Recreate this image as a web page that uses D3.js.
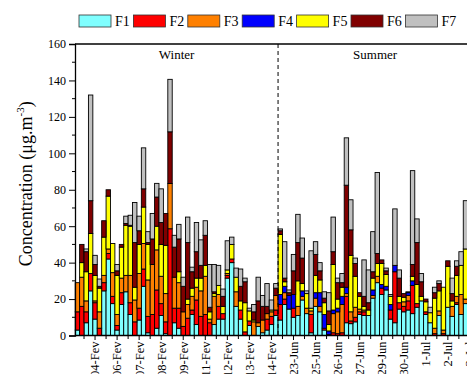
<!DOCTYPE html>
<html>
<head>
<meta charset="utf-8">
<script src="https://cdn.jsdelivr.net/npm/d3@7"></script>
<style>
  body { margin: 0; background: #fff; }
  svg { display: block; }
</style>
</head>
<body>
<div id="chart"></div>
<script>
// fractions, bottom to top
const seriesNames = ['F1', 'F2', 'F3', 'F4', 'F5', 'F6', 'F7'];
const seriesColors = ['#80ffff', '#ff0000', '#ff8000', '#0000ff', '#ffff00', '#800000', '#c0c0c0'];

// one value per sample (winter 0-45, summer 46-88)
const F1 = [3, 0, 7, 24.5, 9, 0, 24.5, 42, 17.5, 3, 17, 24, 11.5, 0, 8.5, 27, 1.5, 0, 4, 11, 1, 0,
  7, 4, 0, 0, 11.5, 6, 0, 0, 0, 6, 9, 9, 31.5, 40, 16, 9, 0, 5.5, 0, 5, 1.5, 3, 6, 11,
  8.5, 17, 14.5, 10, 11, 19.5, 12, 1.5, 16, 13, 3, 0.5, 0, 0, 0, 7, 6.5, 7.5, 11.5, 11, 11, 20.5,
  29, 22.5, 25, 9, 7, 14.5, 13, 14, 12, 15.5, 19, 11.5, 7, 0, 11, 0, 15.5, 10.5, 17, 11.5, 17.5];
const F2 = [10, 16, 6, 9.5, 9, 4, 4.5, 3, 4, 2.5, 6.5, 0, 6.5, 7.5, 6.5, 9.5, 9, 11.5, 21, 6.5, 6.5, 58.6,
  8, 11, 5, 9.5, 2.5, 13.5, 10.5, 11.5, 7, 0, 7, 3, 1.5, 2, 0, 5, 2, 2.5, 0, 0, 0, 6, 4.5, 3,
  8.5, 3, 0, 5, 0, 0, 0, 10, 0, 0, 1, 0, 1.5, 1, 1.5, 14.5, 1.5, 2.5, 1.5, 2, 0, 0,
  0, 3.5, 0, 5, 28, 3.5, 3, 5, 15.5, 2, 0, 1.5, 0, 1, 0, 1, 0, 0, 1, 0, 0];
const F3 = [16, 16, 6, 0, 1, 9, 4, 2.5, 13, 6, 8, 9, 15, 12, 19, 14, 20, 27.5, 22, 15, 15.5, 24.8,
  17, 14, 8, 7.5, 7.5, 7, 14, 21, 2, 15.5, 6.5, 0, 1, 0, 8, 0, 0, 0, 7.5, 2, 7, 3, 2.5, 8,
  0, 3.5, 0, 0, 5, 2, 3, 2, 4.5, 3, 0, 0, 10.5, 12, 15.5, 1.5, 5, 5.5, 1.5, 1, 0, 1.5,
  3.5, 0, 0, 0, 0, 0, 2.5, 3, 0, 0, 0, 0, 0, 3, 2.5, 2, 0, 5.5, 3.5, 11, 2.5];
const F4 = [0, 0, 0, 0, 0, 0, 0, 0, 0, 0, 0, 0, 0, 0, 0, 0, 0, 0, 0, 0, 0, 0,
  0, 0, 0, 0, 0, 0, 0, 0, 0, 0, 0, 0, 0, 0, 0, 0, 0, 0, 0, 0, 0, 0, 0, 0,
  5.5, 3.5, 7.5, 7.5, 0, 3, 0, 0, 3, 7.5, 7.5, 2, 2, 2, 4.5, 3.5, 0, 0, 0, 0, 0, 3,
  0, 2, 2, 3, 3.5, 0, 0, 1.5, 2.5, 0, 0, 0, 0, 0, 0, 0, 0, 0, 0, 0, 0];
const F5 = [0, 8, 16, 22, 14, 13, 21, 29, 16, 21.5, 17, 27.5, 27, 7, 16, 20, 19.5, 0, 13, 17.5, 26.5, 0,
  0, 6, 0, 3, 4.5, 5, 7, 6, 4, 1.5, 5, 4, 2, 8, 8, 5, 16, 5.5, 1, 0, 0, 0, 1, 0,
  33, 2.5, 0, 0, 14, 4, 8, 1.5, 9.5, 7, 6.5, 3.5, 25, 5, 5, 0, 31, 17, 7, 2, 3, 6.5,
  7, 11.5, 6.5, 4.5, 0, 3.5, 2.5, 0, 2.5, 10.5, 2.5, 5.5, 5.5, 16.5, 11, 23.5, 22.5, 3, 11.5, 16, 27.5];
const F6 = [0, 10, 11, 18, 6, 1, 9, 3.5, 0, 2.5, 1.5, 1, 0.5, 24.5, 7.5, 10, 1, 14, 16, 12, 17.5, 28.4,
  16.5, 18, 14, 31, 9, 14.5, 7, 16.5, 2.5, 1, 0, 5.5, 0, 0, 0, 8, 11.5, 0, 4.5, 12, 7.5, 4, 0, 4,
  2, 2, 1.5, 13, 21, 14, 0, 0, 11.5, 5, 2.5, 7.5, 7, 9, 2.5, 56, 14, 7, 2, 5.5, 4, 3.5,
  5.5, 2, 2, 0, 0, 10, 2, 0, 6.5, 23, 8, 1.5, 0, 3, 4, 0, 3, 4, 5, 0, 0];
const F7 = [0, 0, 1.5, 58, 5, 4, 0, 0, 0, 3.5, 0, 4, 5.5, 22, 8, 22.5, 6, 14, 7.5, 18.5, 0, 28.8,
  6.5, 8, 5, 14, 2.5, 16, 14, 8, 23.5, 15, 11, 4, 16, 4, 5, 9.5, 2, 1.5, 4, 13, 6, 12.5, 5.5, 2.5,
  1, 20, 1.5, 9, 15.5, 11, 1.5, 31.5, 7, 4.5, 3.5, 10, 19, 2.5, 5, 26, 16.5, 3, 0, 20, 18, 22,
  44.5, 0, 1.5, 1, 31, 4.5, 0, 0.5, 51.5, 13, 4.5, 0, 3, 3, 1.5, 0, 0, 8.5, 3, 7.5, 26.5];
const seriesValues = [F1, F2, F3, F4, F5, F6, F7];

// axis: sample that carries each date label (the last one falls past the frame)
const sampleCount = 90;
const tickSamples = [4, 9, 14, 19, 24, 29, 34, 39, 44, 49, 54, 59, 64, 69, 74, 79, 84, 89];
const tickLabels = ['04-Fev', '06-Fev', '07-Fev', '08-Fev', '09-Fev', '11-Fev', '12-Fev', '13-Fev', '14-Fev',
  '23-Jun', '25-Jun', '26-Jun', '27-Jun', '29-Jun', '30-Jun', '1-Jul', '2-Jul', '3-Jul'];
const yTicks = [0, 20, 40, 60, 80, 100, 120, 140, 160];
const seasons = [
  { name: 'Winter', first: 0, last: 45 },
  { name: 'Summer', first: 46, last: 89 }
];

const width = 467;
const height = 374;
const margin = { top: 44, left: 75, bottom: 38.5 };
const pitch = 4.41;
const serif = '"Liberation Serif", "Times New Roman", serif';

const rows = F1.map((v, i) => {
  const row = { sample: i };
  seriesNames.forEach((name, s) => { row[name] = seriesValues[s][i]; });
  return row;
});

const x = d3.scaleBand()
  .domain(d3.range(sampleCount))
  .range([margin.left + 0.2, margin.left + 0.2 + sampleCount * pitch])
  .padding(0);

const y = d3.scaleLinear()
  .domain([0, 160])
  .range([height - margin.bottom, margin.top]);

const color = d3.scaleOrdinal().domain(seriesNames).range(seriesColors);

const svg = d3.select('#chart').append('svg')
  .attr('width', width)
  .attr('height', height)
  .attr('font-family', serif);

// bars
const stacked = d3.stack().keys(seriesNames)(rows);
svg.append('g')
  .selectAll('g')
  .data(stacked)
  .join('g')
  .attr('fill', d => color(d.key))
  .selectAll('rect')
  .data(d => d.filter(p => p[1] - p[0] > 0))
  .join('rect')
  .attr('x', d => x(d.data.sample))
  .attr('width', x.bandwidth())
  .attr('y', d => y(d[1]))
  .attr('height', d => y(d[0]) - y(d[1]))
  .attr('stroke', '#000')
  .attr('stroke-width', 0.9);

// season divider
const divideX = x(seasons[1].first);
svg.append('line')
  .attr('x1', divideX).attr('x2', divideX)
  .attr('y1', y(160)).attr('y2', y(0))
  .attr('stroke', '#000')
  .attr('stroke-width', 1)
  .attr('stroke-dasharray', '4,3');

svg.append('g')
  .selectAll('text')
  .data(seasons)
  .join('text')
  .attr('x', d => (x(d.first) + x(d.last) + x.bandwidth()) / 2)
  .attr('y', y(160) + 15)
  .attr('text-anchor', 'middle')
  .attr('font-size', 13)
  .text(d => d.name);

// y axis
const yAxis = svg.append('g')
  .attr('transform', `translate(${margin.left},0)`)
  .call(d3.axisLeft(y).tickValues(yTicks).tickSize(6).tickPadding(3))
  .attr('font-family', serif)
  .call(g => g.select('.domain').attr('stroke-width', 1.3));
yAxis.selectAll('text').attr('font-size', 12).attr('fill', '#000');
yAxis.selectAll('.tick line').attr('stroke-width', 1);
yAxis.append('g')
  .selectAll('line')
  .data(yTicks.slice(0, -1).map(v => v + 10))
  .join('line')
  .attr('x1', -3).attr('x2', 0)
  .attr('y1', d => y(d)).attr('y2', d => y(d))
  .attr('stroke', '#000');

// frame top
svg.append('line')
  .attr('x1', margin.left).attr('x2', width)
  .attr('y1', y(160)).attr('y2', y(160))
  .attr('stroke', '#000').attr('stroke-width', 1.3);

// x axis
const xAxis = svg.append('g')
  .attr('transform', `translate(0,${y(0)})`)
  .call(d3.axisBottom(x).tickValues(tickSamples).tickSize(4.5)
    .tickFormat((d, i) => tickLabels[i]))
  .attr('font-family', serif)
  .call(g => g.select('.domain').attr('d', `M${margin.left},0H${width}`).attr('stroke-width', 1.3));
xAxis.selectAll('.tick text')
  .attr('font-size', 12.5)
  .attr('fill', '#000')
  .attr('transform', 'rotate(-90)')
  .attr('text-anchor', 'end')
  .attr('x', -6)
  .attr('y', 0)
  .attr('dy', '0.35em');
const minorX = tickSamples.map(s => x(s) + x.bandwidth() / 2 - 2.5 * pitch);
xAxis.append('g')
  .selectAll('line')
  .data(minorX)
  .join('line')
  .attr('x1', d => d).attr('x2', d => d)
  .attr('y1', 0).attr('y2', 3.5)
  .attr('stroke', '#000');

// y title
svg.append('text')
  .attr('transform', `translate(32,${(y(0) + y(160)) / 2 - 6}) rotate(-90)`)
  .attr('text-anchor', 'middle')
  .attr('font-size', 18)
  .call(t => {
    t.append('tspan').text('Concentration (μg.m');
    t.append('tspan').attr('font-size', 11).attr('dy', -8).text('-3');
    t.append('tspan').attr('dy', 8).text(')');
  });

// legend
const legend = svg.append('g')
  .selectAll('g')
  .data(seriesNames)
  .join('g')
  .attr('transform', (d, i) => `translate(${79 + i * 54.4},15)`);
legend.append('rect')
  .attr('width', 32).attr('height', 12)
  .attr('fill', d => color(d))
  .attr('stroke', '#333').attr('stroke-width', 0.8);
legend.append('text')
  .attr('x', 36).attr('y', 11)
  .attr('font-size', 14)
  .text(d => d);
</script>
</body>
</html>
